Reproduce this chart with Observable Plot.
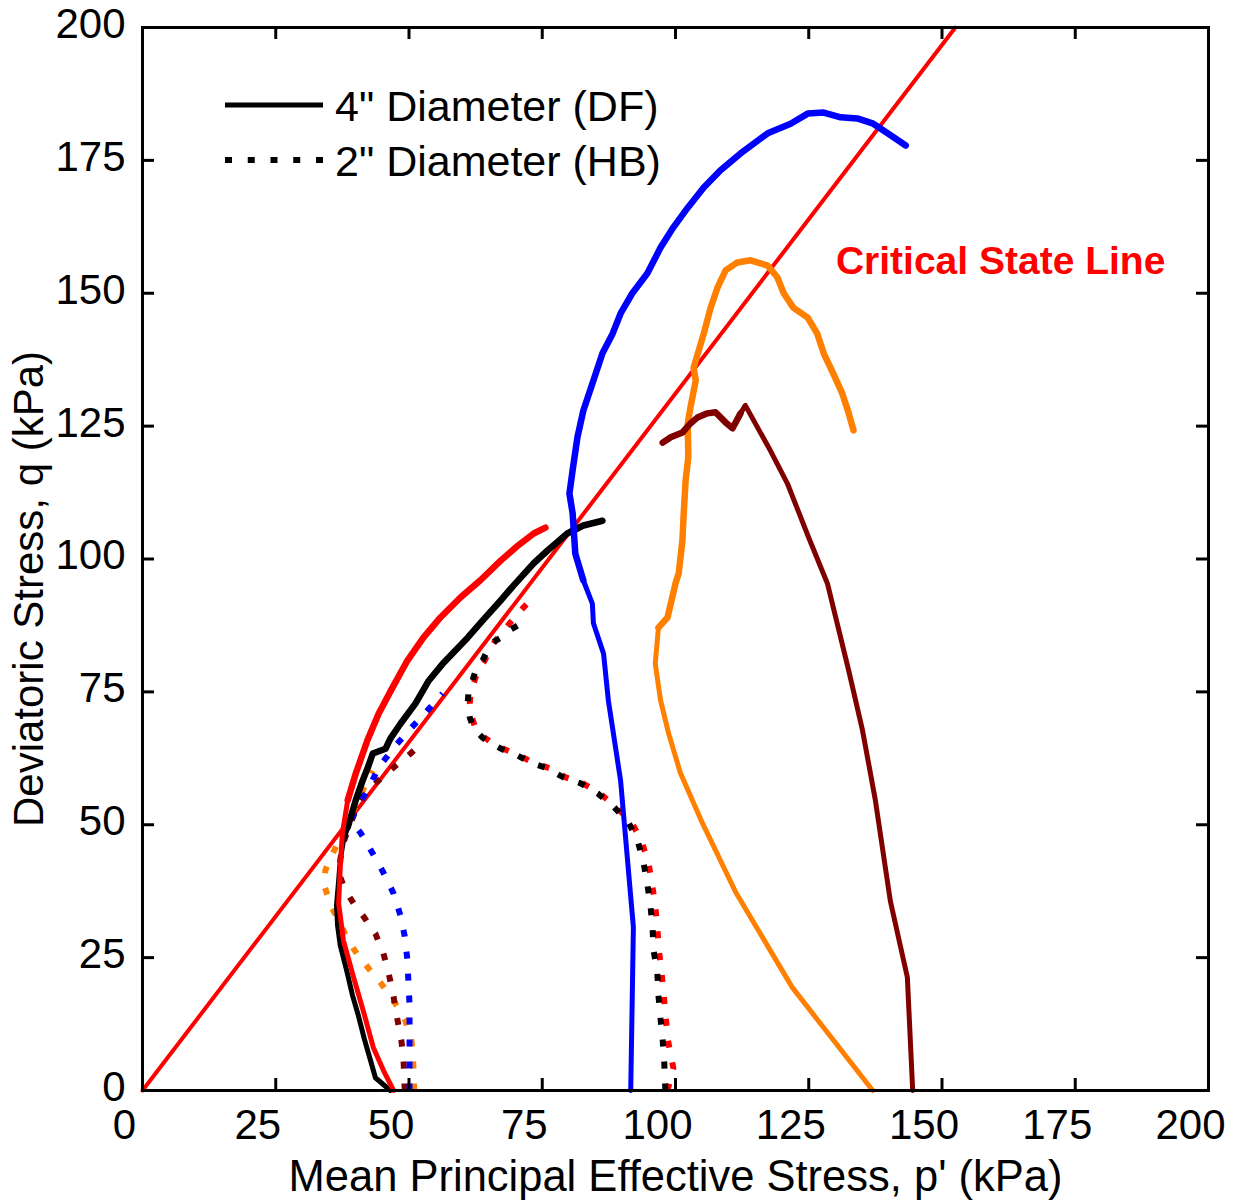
<!DOCTYPE html>
<html>
<head>
<meta charset="utf-8">
<script src="https://cdn.jsdelivr.net/npm/d3@7"></script>
<script src="https://cdn.jsdelivr.net/npm/@observablehq/plot@0.6"></script>
<style>
  html, body { margin: 0; padding: 0; background: #fff; }
  #chart { width: 1239px; height: 1202px; }
</style>
</head>
<body>
<div id="chart"></div>
<script>
// ---- Tick values ----
const xTicks = [0, 25, 50, 75, 100, 125, 150, 175, 200];
const yTicks = [0, 25, 50, 75, 100, 125, 150, 175, 200];

// ---- Critical state line (p', q) ----
const cslLine = [[0, 0], [152.5, 200]];
const cslLabel = "Critical State Line";
const cslLabelPos = [161, 153.7];

// ---- 4" diameter (DF) tests: solid lines, [p', q] ----
const black4 = [[46.5,0],[43.7,2.4],[42.8,5.6],[41.7,9.4],[40.5,14.1],[39.4,17.9],[38.3,22.6],[37.1,27.3],[36.6,31.0],[36.4,34.8],[36.8,39.5],[37.1,43.3],[37.7,47.0],[38.5,49.5],[40.0,54.6],[41.3,58.3],[42.4,61.1],[43.2,63.4],[45.6,64.3],[46.5,66.2],[48.4,69.0],[51.2,72.8],[53.7,77.1],[56.5,80.5],[61.0,85.2],[63.8,88.4],[67.2,92.2],[69.6,95.0],[73.4,99.2],[76.0,101.6],[79.7,104.8],[82.7,106.3],[86.3,107.2]];
const red4 = [[47.1,0],[45.2,3.8],[43.3,8.1],[41.5,14.7],[39.6,21.3],[37.7,28.2],[36.8,35.2],[37.1,42.0],[37.5,48.4],[38.5,54.6],[40.0,59.6],[42.2,65.9],[44.3,70.9],[46.9,75.8],[49.7,80.9],[52.7,85.2],[55.9,89.0],[59.7,92.8],[63.4,96.0],[67.2,99.7],[70.4,102.5],[73.4,104.8],[75.6,105.9]];
const blue4 = [[91.6,0],[92.1,30.7],[89.7,58.3],[87.4,73.4],[86.5,82.2],[84.6,87.9],[84.4,91.6],[82.7,96.0],[81.2,101.0],[80.7,108.6],[80.1,112.3],[80.7,116.7],[81.6,122.9],[82.7,127.9],[84.6,133.6],[86.3,138.7],[88.2,142.4],[89.7,146.2],[91.9,150.0],[94.7,153.7],[97.2,158.6],[99.6,162.4],[102.3,166.1],[105.3,169.9],[108.4,173.1],[112.2,176.3],[117.3,180.1],[121.6,181.9],[124.8,183.8],[127.8,184.0],[131.0,183.1],[134.1,182.9],[137.1,181.9],[139.8,180.1],[143.2,177.8]];
const orange4 = [[137.0,0],[121.9,19.4],[111.3,37.3],[105.1,50.2],[100.9,59.8],[98.7,67.2],[97.2,73.4],[96.2,80.3],[96.8,87.1],[98.5,89.0],[100.0,95.4],[100.6,97.3],[101.3,103.5],[101.5,107.8],[101.9,114.8],[102.4,119.1],[102.3,125.5],[102.8,128.5],[103.8,133.6],[103.4,136.0],[105.3,142.4],[106.6,147.3],[107.9,151.1],[109.4,154.3],[111.6,155.8],[114.1,156.2],[117.3,155.2],[119.1,153.0],[120.3,150.0],[122.1,147.3],[124.8,145.4],[126.6,142.4],[127.8,138.7],[129.6,134.9],[131.3,131.1],[132.5,127.4],[133.4,124.2]];
const maroon4 = [[144.5,0],[143.5,21.3],[140.3,35.7],[137.5,54.6],[135.1,67.7],[132.5,79.0],[128.5,95.4],[125.0,104.0],[121.0,114.2],[117.8,120.4],[113.1,128.9],[112.2,127.4],[110.7,124.6],[109.4,125.7],[107.5,127.6],[106.0,127.4],[104.1,126.6],[102.8,125.5],[101.3,123.8],[99.1,122.9],[97.6,121.9]];

// ---- 2" diameter (HB) tests: dotted lines, [p', q] ----
const red2 = [[98.5,0],[99.6,4.2],[99.0,7.2],[98.6,9.4],[98.2,13.5],[97.8,17.9],[97.4,22.0],[96.9,26.3],[96.6,30.5],[96.2,34.8],[95.6,38.9],[94.9,42.9],[93.6,47.0],[91.8,50.4],[88.8,53.4],[85.8,55.9],[82.6,57.8],[79.4,58.9],[76.4,60.6],[73.2,61.7],[70.8,63.0],[67.9,64.2],[65.7,65.3],[64.2,66.4],[62.5,68.1],[61.8,70.2],[61.4,72.8],[61.6,75.3],[62.3,77.1],[62.9,79.0],[64.2,80.9],[65.1,82.8],[66.0,84.3],[67.3,86.0],[68.8,87.8],[70.3,89.5],[71.6,91.0],[72.8,92.2]];
const black2 = [[98.1,0],[97.9,5.1],[97.6,9.4],[97.2,13.5],[96.8,17.9],[96.6,22.0],[95.9,26.3],[95.7,30.5],[95.3,34.8],[94.7,38.9],[94.0,42.9],[92.9,47.0],[91.2,50.4],[88.4,53.4],[85.4,55.9],[82.2,57.8],[79.0,58.9],[76.0,60.6],[72.8,61.7],[70.4,63.0],[67.5,64.2],[65.3,65.3],[63.8,66.4],[62.1,68.1],[61.4,70.2],[61.0,72.8],[61.2,75.3],[61.9,77.1],[62.5,79.0],[63.8,80.9],[64.7,82.8],[65.7,84.3],[67.2,85.2],[68.7,86.5],[70.4,87.5],[72.2,88.8]];
const blue2 = [[50.1,0],[50.1,7.7],[50.1,16.2],[49.9,20.3],[49.7,24.6],[49.2,29.0],[48.4,32.9],[47.1,37.1],[45.2,41.0],[43.2,44.6],[40.9,48.5],[39.0,50.8],[40.5,53.6],[42.4,56.8],[44.3,60.8],[47.5,64.9],[50.3,68.1],[53.1,71.1],[56.3,74.7]];
const orange2 = [[51.0,0],[50.8,5.1],[50.5,9.2],[49.3,13.2],[47.3,16.6],[44.8,20.1],[42.4,23.0],[40.3,25.6],[38.6,28.2],[36.8,32.0],[35.3,34.8],[34.1,38.6],[34.3,41.4],[35.3,43.8],[36.6,46.5],[38.1,49.3],[39.4,52.3],[40.9,55.5],[42.2,58.3],[43.2,60.2]];
const maroon2 = [[49.2,0],[49.0,5.1],[48.6,9.2],[47.8,13.5],[47.1,17.7],[46.2,22.0],[45.2,25.8],[43.7,29.5],[41.5,32.7],[39.6,35.2],[38.1,37.6],[37.1,40.1],[37.1,43.3],[37.5,46.1],[38.5,48.9],[39.6,51.7],[40.9,54.6],[42.2,56.4],[44.7,58.7],[47.5,61.1],[50.3,63.4],[52.5,65.5]];

// ---- Colours ----
const colors = {black: "#000000", red: "#ff0000", blue: "#0000ff", orange: "#ff8000", maroon: "#800000"};

// ---- Legend ----
const legendItems = [
  {label: "4\" Diameter (DF)", dash: null},
  {label: "2\" Diameter (HB)", dash: "7,15.75"}
];

const W = 1239, H = 1202;
const mL = 142, mR = 31, mT = 27, mB = 112;
const plotW = W - mL - mR, plotH = H - mT - mB;
const TICK = 12;

const px = d => d[0], qy = d => d[1];
const solid = (data, c) => Plot.line(data, {x: px, y: qy, stroke: c, strokeWidth: 5, strokeLinejoin: "round", strokeLinecap: "round"});
// noisy (densely sampled) portions of the measured paths appear heavier
const heavy = (data, c, test) => Plot.line(data, {x: px, y: qy, filter: test, stroke: c, strokeWidth: 6.5, strokeLinejoin: "round", strokeLinecap: "round"});
const dotted = (data, c) => Plot.line(data, {x: px, y: qy, stroke: c, strokeWidth: 6, strokeDasharray: "7,15", strokeLinecap: "butt", strokeLinejoin: "miter"});

const chart = Plot.plot({
  width: W, height: H,
  marginLeft: mL, marginRight: mR, marginTop: mT, marginBottom: mB,
  x: {domain: [0, 200]},
  y: {domain: [0, 200]},
  style: {fontFamily: "'Liberation Sans', Arial, Helvetica, sans-serif", fontSize: "42px", color: "#000", background: "#fff", overflow: "visible"},
  marks: [
    Plot.line(cslLine, {x: px, y: qy, stroke: colors.red, strokeWidth: 4}),
    dotted(orange2, colors.orange),
    dotted(maroon2, colors.maroon),
    dotted(blue2, colors.blue),
    dotted(red2, colors.red),
    dotted(black2, colors.black),
    solid(black4, colors.black),
    heavy(black4, colors.black, d => d[1] > 48),
    solid(red4, colors.red),
    heavy(red4, colors.red, d => d[1] > 50),
    solid(blue4, colors.blue),
    heavy(blue4, colors.blue, d => d[1] > 95),
    solid(orange4, colors.orange),
    heavy(orange4, colors.orange, d => d[1] > 85),
    solid(maroon4, colors.maroon),
    heavy(maroon4, colors.maroon, d => d[1] > 121 && d[0] < 113),
    Plot.frame({stroke: "#000", strokeWidth: 3}),
    Plot.tickX(xTicks, {x: d => d, insetTop: plotH - TICK, stroke: "#000", strokeWidth: 3}),
    Plot.tickX(xTicks, {x: d => d, insetBottom: plotH - TICK, stroke: "#000", strokeWidth: 3}),
    Plot.tickY(yTicks, {y: d => d, insetRight: plotW - TICK, stroke: "#000", strokeWidth: 3}),
    Plot.tickY(yTicks, {y: d => d, insetLeft: plotW - TICK, stroke: "#000", strokeWidth: 3}),
    Plot.axisX({ticks: xTicks, tickSize: 0, tickPadding: 19, dx: -18, label: null, fontSize: 42, tickFormat: d => String(d)}),
    Plot.axisY({ticks: yTicks, tickSize: 0, tickPadding: 17, dy: -3, label: null, fontSize: 42, tickFormat: d => String(d)}),
    Plot.text(["Mean Principal Effective Stress, p' (kPa)"], {frameAnchor: "bottom", lineAnchor: "bottom", dy: 100, fontSize: 43.5, fill: "#000"}),
    Plot.text(["Deviatoric Stress, q (kPa)"], {frameAnchor: "left", textAnchor: "middle", rotate: -90, lineAnchor: "top", dx: -129, dy: 30, fontSize: 42, fill: "#000"}),
    Plot.text([cslLabel], {x: () => cslLabelPos[0], y: () => cslLabelPos[1], lineAnchor: "bottom", textAnchor: "middle", fontSize: 39, fontWeight: "bold", fill: colors.red})
  ]
});

// Legend (layout only, drawn in pixel space inside the plot frame)
const svg = d3.select(chart);
const lg = svg.append("g").attr("class", "legend").attr("text-anchor", "start");
legendItems.forEach((it, i) => {
  const y = 105 + i * 55;
  const ln = lg.append("line").attr("x1", 225).attr("x2", 323).attr("y1", y).attr("y2", y)
    .attr("stroke", "#000").attr("stroke-width", it.dash ? 6 : 5);
  if (it.dash) ln.attr("stroke-dasharray", it.dash);
  lg.append("text").attr("x", 335).attr("y", y + 16).attr("font-size", 43)
    .attr("text-anchor", "start").attr("fill", "#000").text(it.label);
});

document.getElementById("chart").appendChild(chart);
</script>
</body>
</html>
